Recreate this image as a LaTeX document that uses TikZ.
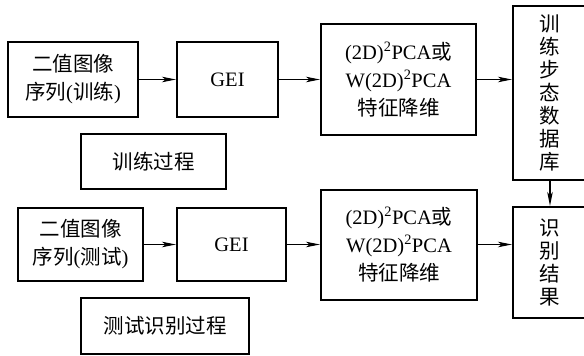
\documentclass[tikz,border=0pt]{standalone}
\usepackage{fontspec}
\setmainfont{Liberation Serif}
\newfontfamily\cjk{Noto Sans CJK SC}
\usetikzlibrary{positioning, arrows.meta}
\tikzset{stage/.style={draw,line width=2pt,inner sep=0pt,align=center,
                       font=\fontsize{20.5}{28}\selectfont},
         column/.style={stage,font=\cjk\fontsize{20.5}{23}\selectfont},
         flow/.style={-{Stealth[length=14pt,width=5.5pt,inset=3.5pt]},line width=1.1pt},
        }

\begin{document}
\begin{tikzpicture}[x=1pt,y=-1pt]
        \useasboundingbox (0,0) rectangle (584,356);
        \clip (0,0) rectangle (584,356);

        % training branch
        \node[stage,minimum width=130,minimum height=75](seqtrain)at(73,79.5){{\cjk 二值图像}\\{\cjk 序列}({\cjk 训练})};
        \node[stage,minimum width=101,minimum height=75](geitrain)at(227.5,79.5){GEI};
        \node[stage,minimum width=155,minimum height=111](pcatrain)at(398.5,79.5){(2D)\textsuperscript{2}PCA{\cjk 或}\\W(2D)\textsuperscript{2}PCA\\{\cjk 特征降维}};
        \node[column,minimum width=74,minimum height=174](db)at(550,93){训\\练\\步\\态\\数\\据\\库};
        \node[stage,minimum width=145,minimum height=55](labtrain)at(153.5,161.5){\cjk 训练过程};

        % test branch
        \node[stage,minimum width=125,minimum height=73](seqtest)at(80.5,244.5){{\cjk 二值图像}\\{\cjk 序列}({\cjk 测试})};
        \node[stage,minimum width=109,minimum height=73](geitest)at(231.5,244.5){GEI};
        \node[stage,minimum width=156,minimum height=110](pcatest)at(399,244.5){(2D)\textsuperscript{2}PCA{\cjk 或}\\W(2D)\textsuperscript{2}PCA\\{\cjk 特征降维}};
        \node[column,minimum width=74,minimum height=111](result)at(550,262.5){识\\别\\结\\果};
        \node[stage,minimum width=168,minimum height=56](labtest)at(165,326){\cjk 测试识别过程};

        \draw[flow](seqtrain)--(geitrain);
        \draw[flow](geitrain)--(pcatrain);
        \draw[flow](pcatrain.east)--(pcatrain.east-|db.west);
        \draw[flow](db)--(result);

        \draw[flow](seqtest)--(geitest);
        \draw[flow](geitest)--(pcatest);
        \draw[flow](pcatest.east)--(pcatest.east-|result.west);
    \end{tikzpicture}
\end{document}
